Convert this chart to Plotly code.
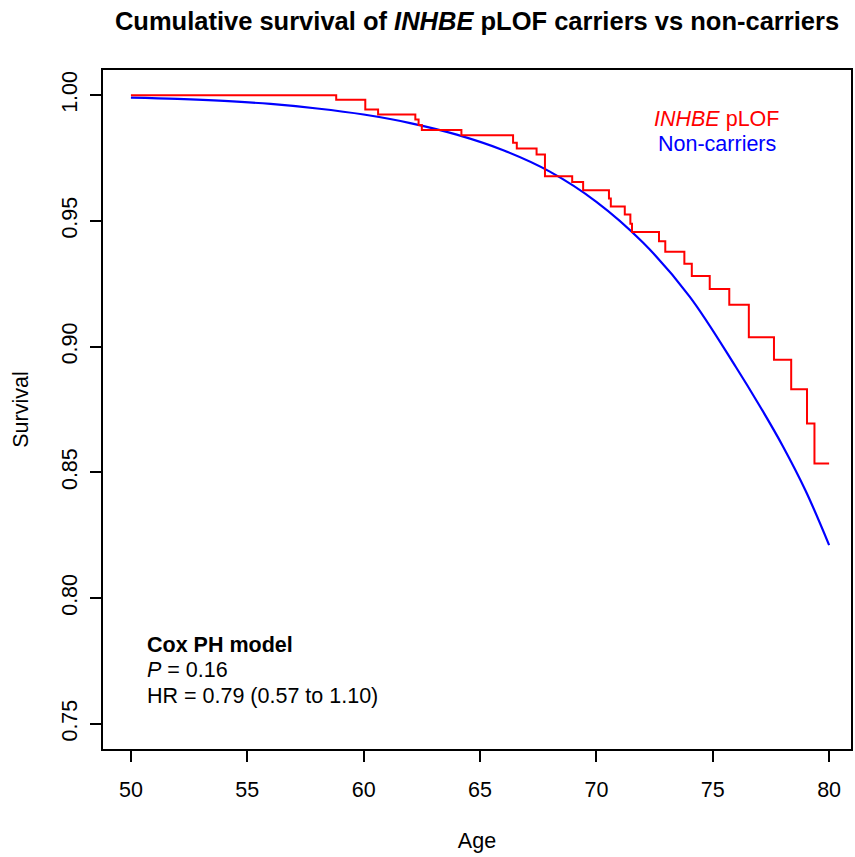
import plotly.graph_objects as go

# INHBE pLOF carriers (Kaplan-Meier step function)
ages_plof = [50.0, 58.82, 60.07, 60.62, 62.22, 62.36, 62.50, 64.20, 66.42, 66.58, 67.43, 67.79,
             68.96, 69.43, 70.54, 70.62, 71.22, 71.46, 71.53, 72.69, 72.96, 73.78, 74.10, 74.87,
             75.71, 76.55, 77.63, 78.37, 79.05, 79.37, 80.0]
surv_plof = [1.000, 0.9982, 0.9943, 0.9923, 0.9903, 0.9881, 0.9861, 0.9841, 0.9811, 0.9788, 0.9764, 0.9678,
             0.9655, 0.9622, 0.9589, 0.9557, 0.9525, 0.9489, 0.9456, 0.9419, 0.9377, 0.9330, 0.9281, 0.9229,
             0.9167, 0.9037, 0.8948, 0.8831, 0.8694, 0.8535, 0.8535]

# Non-carriers
ages_non = [50.0, 52.0, 54.0, 56.0, 58.0, 60.0, 62.0, 64.0, 66.0, 68.0, 70.0, 72.0, 74.0, 76.0,
            77.0, 78.0, 79.0, 80.0]
surv_non = [0.9990, 0.9985, 0.9977, 0.9965, 0.9947, 0.9923, 0.9889, 0.9843, 0.9781, 0.9696, 0.9576,
            0.9414, 0.9200, 0.8918, 0.8767, 0.8606, 0.8425, 0.8211]

x_ticks = [50, 55, 60, 65, 70, 75, 80]
y_ticks = [0.75, 0.80, 0.85, 0.90, 0.95, 1.00]

FONT = "Liberation Sans, Arial, sans-serif"
FS = 21.5

fig = go.Figure()
fig.add_trace(go.Scatter(x=ages_non, y=surv_non, mode="lines", line=dict(color="#0000FF", width=2.2),
                         line_shape="spline", showlegend=False))
fig.add_trace(go.Scatter(x=ages_plof, y=surv_plof, mode="lines", line=dict(color="#FF0000", width=2),
                         line_shape="hv", showlegend=False))

fig.update_layout(
    width=855, height=857,
    margin=dict(l=103, r=2, t=70, b=108),
    paper_bgcolor="white", plot_bgcolor="white",
    font=dict(family=FONT, size=FS, color="black"),
    title=dict(text="<b>Cumulative survival of <i>INHBE</i> pLOF carriers vs non-carriers</b>",
               x=0.5, xref="paper", y=1 - 21 / 857, yref="container", yanchor="middle",
               font=dict(size=25.5, family=FONT, color="black")),
    xaxis=dict(range=[48.8, 80.94], tickvals=x_ticks, ticks="outside", ticklen=11, tickwidth=1.5,
               tickcolor="black", showline=True, linecolor="black", linewidth=2, mirror=True,
               showgrid=False, zeroline=False, ticklabelstandoff=9, tickfont=dict(size=FS),
               title=dict(text="Age", standoff=32, font=dict(size=FS))),
    yaxis=dict(range=[0.74, 1.01], tickvals=y_ticks, tickformat=".2f", ticks="outside", ticklen=11,
               tickwidth=1.5, tickcolor="black", showline=True, linecolor="black", linewidth=2,
               mirror=True, showgrid=False, zeroline=False, tickangle=-90, ticklabelstandoff=4,
               tickfont=dict(size=FS),
               title=dict(text="Survival", standoff=24, font=dict(size=FS))),
)


def px_to_paper_x(px):
    return (px - 103) / (853 - 103)


def px_to_paper_y(py):
    return (749 - py) / (749 - 70)


fig.add_annotation(x=px_to_paper_x(718), y=px_to_paper_y(119), xref="paper", yref="paper",
                   text="<i>INHBE</i> pLOF", showarrow=False, xanchor="center", yanchor="middle",
                   font=dict(size=FS, color="#FF0000"))
fig.add_annotation(x=px_to_paper_x(719), y=px_to_paper_y(144), xref="paper", yref="paper",
                   text="Non-carriers", showarrow=False, xanchor="center", yanchor="middle",
                   font=dict(size=FS, color="#0000FF"))
fig.add_annotation(x=px_to_paper_x(145), y=px_to_paper_y(645), xref="paper", yref="paper",
                   text="<b>Cox PH model</b>", showarrow=False, xanchor="left", yanchor="middle",
                   font=dict(size=FS))
fig.add_annotation(x=px_to_paper_x(145), y=px_to_paper_y(670), xref="paper", yref="paper",
                   text="<i>P</i> = 0.16", showarrow=False, xanchor="left", yanchor="middle",
                   font=dict(size=FS))
fig.add_annotation(x=px_to_paper_x(145), y=px_to_paper_y(696), xref="paper", yref="paper",
                   text="HR = 0.79 (0.57 to 1.10)", showarrow=False, xanchor="left", yanchor="middle",
                   font=dict(size=FS))

fig.write_html("out.html")
